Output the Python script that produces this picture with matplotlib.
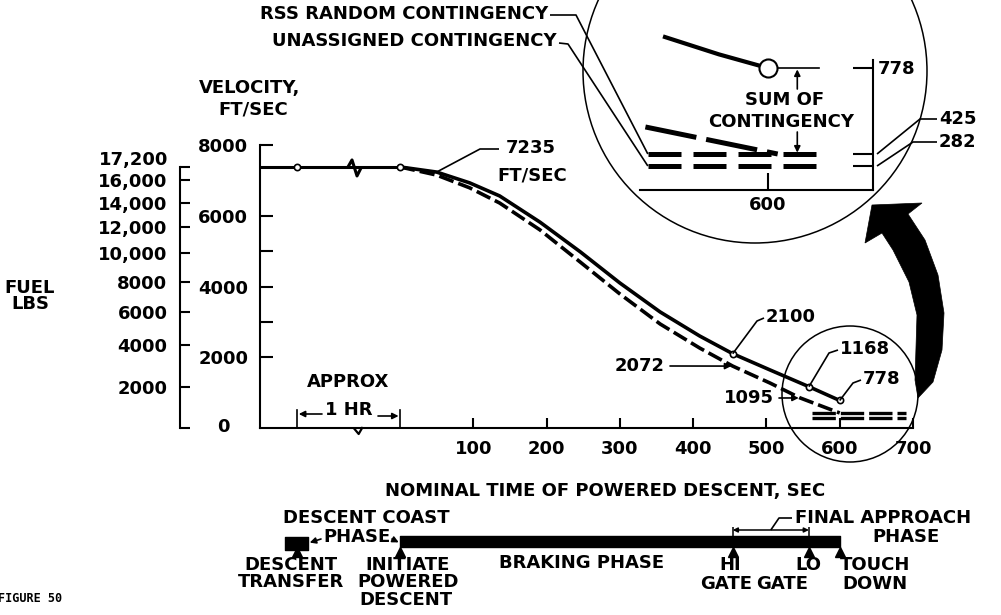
import matplotlib.pyplot as plt
import matplotlib.transforms as mtransforms
import numpy as np
from matplotlib.patches import Circle, Polygon

plt.rcParams["font.family"] = ["DejaVu Sans"]
plt.rcParams["font.weight"] = "bold"
plt.rcParams["font.size"] = 13

# seconds from powered descent initiation; the coast phase sits left of zero
coast_t = [-191, 0]
coast_v = [7380, 7380]
velocity_t = [0, 50, 95, 136, 191, 246, 300, 355, 409, 454, 505, 558, 600]
velocity_v = [7380, 7235, 6930, 6560, 5820, 4980, 4100, 3280, 2600, 2100, 1640, 1168, 778]
fuel_t = [0, 50, 95, 136, 191, 246, 300, 355, 409, 454, 505, 546, 600]
fuel_v = [7380, 7150, 6790, 6360, 5600, 4690, 3790, 2940, 2260, 1750, 1270, 850, 425]
reserve_t = [562, 690]
rss_contingency = 425
unassigned_contingency = 282

velocity_ticks = [2000, 4000, 6000, 8000]
velocity_minor = [3000, 5000]
fuel_ticks = [0, 2000, 4000, 6000, 8000, 10000, 12000, 14000, 16000, 17200]
fuel_tick_at = [0, 1160, 2345, 3280, 4125, 4945, 5680, 6360, 7010, 7380]
time_ticks = [100, 200, 300, 400, 500, 600, 700]

# descent transfer, ignition, hi gate, lo gate, touchdown
event_t = [-140, 0, 454, 558, 600]
transfer_block = (-157, 32)
labelled_t = [454, 558, 600]
labelled_v = [2100, 1168, 778]

# close-up of the touchdown region
zoom_velocity_t = [558, 580, 600]
zoom_velocity_v = [1168, 950, 778]
zoom_fuel_t = [550, 604]
zoom_fuel_v = [536, 425]
zoom_band_t = [551, 623]
zoom_levels = [282, 425, 778]
zoom_scale_v = [0, 282, 425, 778, 1168]
zoom_scale_h = [0, 24, 36, 122, 153]

W, H = 1001, 615
fig = plt.figure(figsize=(W / 100, H / 100), dpi=100)


def box(left, top, right, bottom):
    return [left / W, 1 - bottom / H, (right - left) / W, (bottom - top) / H]


# main velocity / time axes
ax = fig.add_axes(box(260, 145, 913, 428))
ax.set_xlim(-191, 700)
ax.set_ylim(0, 8000)
for side in ["top", "right"]:
    ax.spines[side].set_visible(False)
for side in ["left", "bottom"]:
    ax.spines[side].set_linewidth(1.5)
ax.set_xticks(time_ticks)
ax.set_yticks(velocity_ticks)
ax.set_yticks(velocity_minor, minor=True)
ax.tick_params(axis="y", which="both", direction="in", length=9.5, width=1.5, pad=8.5)
ax.tick_params(axis="x", which="major", direction="in", length=7.5, width=1.5, pad=9)
ax.tick_params(axis="x", which="minor", bottom=False)
ax.annotate("0", xy=(0, 0), xycoords="axes fraction", xytext=(-26.5, 1),
            textcoords="offset points", ha="center", va="center")

ax.plot(coast_t, coast_v, color="k", lw=2.2)
ax.plot(velocity_t, velocity_v, color="k", lw=2.6)
ax.plot(fuel_t, fuel_v, color="k", lw=2.6, dashes=(4.2, 1.4))
for level in [rss_contingency, unassigned_contingency]:
    ax.plot(reserve_t, [level, level], color="k", lw=2.4, dashes=(7, 1.5))
ax.plot(event_t[:2], coast_v, "o", ms=4.5, mfc="white", mec="k", mew=1.2, zorder=5)
ax.plot(labelled_t, labelled_v, "o", ms=4.5, mfc="white", mec="k", mew=1.2, zorder=5)

# fuel scale on its own spine, tied to the velocity scale
axf = fig.add_axes(box(260, 145, 913, 428))
axf.set_ylim(0, 8000)
axf.patch.set_visible(False)
for side in ["top", "right", "bottom"]:
    axf.spines[side].set_visible(False)
axf.spines["left"].set_position(("axes", -80 / 653))
axf.spines["left"].set_bounds(0, fuel_tick_at[-1])
axf.spines["left"].set_linewidth(1.5)
axf.set_xticks([])
fuel_labels = [f"{f:,}" if f >= 10000 else str(f) for f in fuel_ticks]
# the zero and top labels are placed by hand further down
axf.set_yticks(fuel_tick_at, labels=[""] + fuel_labels[1:-1] + [""])
axf.tick_params(axis="y", direction="in", length=7, width=1.5, pad=9)

# close-up axes with a stretched reserve scale
axi = fig.add_axes(box(640, 60, 873, 190))


def zoom_fwd(v):
    return np.interp(v, zoom_scale_v, zoom_scale_h)


def zoom_inv(h):
    return np.interp(h, zoom_scale_h, zoom_scale_v)


axi.set_yscale("function", functions=(zoom_fwd, zoom_inv))
axi.set_xlim(547.8, 642.9)
axi.set_ylim(0, 879)
axi.patch.set_visible(False)
for side in ["top", "left"]:
    axi.spines[side].set_visible(False)
for side in ["bottom", "right"]:
    axi.spines[side].set_linewidth(1.5)
axi.set_xticks([600])
axi.yaxis.tick_right()
axi.set_yticks(zoom_levels, labels=["", "", ""])
axi.yaxis.set_minor_locator(plt.NullLocator())
axi.tick_params(axis="x", direction="in", length=12, width=1.5, pad=4)
axi.tick_params(axis="y", direction="in", length=14.5, width=1.5)
axi.plot(zoom_velocity_t, zoom_velocity_v, color="k", lw=3, clip_on=False)
axi.plot([600], [778], "o", ms=13, mfc="white", mec="k", mew=1.5,
         clip_on=False, zorder=5)
axi.plot([600, 621], [778, 778], color="k", lw=1.2, clip_on=False)
for level in [rss_contingency, unassigned_contingency]:
    axi.plot(zoom_band_t, [level, level], color="k", lw=3.6,
             dashes=(6.6, 2.4), clip_on=False)
axi.plot(zoom_fuel_t, zoom_fuel_v, color="k", lw=3.6, dashes=(10.4, 2), clip_on=False)

# mission timeline bar under the plot
tl = fig.add_axes(box(260, 520, 913, 560))
tl.set_xlim(-191, 700)
tl.set_ylim(0, 40)
tl.set_axis_off()
tl.broken_barh([(event_t[1], event_t[4] - event_t[1])], (12.5, 11), color="k")
tl.broken_barh([transfer_block], (10, 13), color="k")
tl.plot(event_t, [8] * len(event_t), "^", ms=6.5, color="k")
tl.annotate("", xy=(event_t[2], 30), xytext=(event_t[3], 30),
            arrowprops=dict(arrowstyle="<|-|>", lw=1.1, color="k",
                            shrinkA=0, shrinkB=0, mutation_scale=7))
tl.vlines(event_t[2:4], 24, 33, color="k", lw=1.1)

# pixel overlay for callouts
over = fig.add_axes([0, 0, 1, 1], zorder=10)
over.set_xlim(0, W)
over.set_ylim(H, 0)
over.set_axis_off()
over.patch.set_visible(False)
blend = mtransforms.blended_transform_factory(ax.transData, over.transData)


def at(axis, x, y):
    return tuple(over.transData.inverted().transform(axis.transData.transform((x, y))))


def ink(points, lw=1.2):
    xs, ys = zip(*points)
    over.plot(xs, ys, color="k", lw=lw, solid_capstyle="butt")


def pointer(tail, head, xycoords="data"):
    over.annotate("", xy=head, xycoords=xycoords, xytext=tail, textcoords="data",
                  arrowprops=dict(arrowstyle="-|>", lw=1.2, color="k",
                                  mutation_scale=9, shrinkA=0, shrinkB=1))


def say(x, y, s, ha="center", **kw):
    over.text(x, y, s, ha=ha, va="center", **kw)


# axis titles
say(250, 88, "VELOCITY,")
say(253, 110, "FT/SEC")
say(30, 288, "FUEL")
say(30, 304, "LBS")
fx, fy = at(axf, 0, fuel_tick_at[-1])
say(fx - 92, fy - 7, fuel_labels[-1], ha="right")
say(605, 491, "NOMINAL TIME OF POWERED DESCENT, SEC")
over.text(-2, 598, "FIGURE 50", ha="left", va="center", fontsize=8.5,
          family="DejaVu Sans Mono")

# breaks in the coast line and time axis
bx, by = at(ax, -60, coast_v[0])
ink([(bx - 8, by), (bx - 4, by - 7), (bx + 1, by + 9), (bx + 5, by + 1)], lw=2.2)
ax0, ay0 = at(ax, -55, 0)
ink([(ax0 - 6, ay0), (ax0 - 1, ay0 + 6), (ax0 + 3, ay0 - 1)], lw=1.6)

# one hour of coast
say(348, 382, "APPROX")
say(349, 410, "1 HR")
for t in event_t[:2]:
    over.plot([t, t], [410, 428], color="k", lw=1.2, transform=blend)
pointer((322, 414), (event_t[0], 414), xycoords=blend)
pointer((378, 416), (event_t[1], 416), xycoords=blend)

# point callouts
ink([at(ax, velocity_t[1], velocity_v[1]), (480, 149), (499, 149)])
say(531, 148, f"{velocity_v[1]}")
say(532, 176, "FT/SEC")
callouts = [((757, 321), (764, 318)), ((829, 353), (838, 350)), ((853, 383), (861, 380))]
for t, v, (bend, end) in zip(labelled_t, labelled_v, callouts):
    ink([at(ax, t, v), bend, end])
    say(end[0] + 2, end[1] - 1, str(v), ha="left")
say(640, 366, "2072")
pointer((670, 366), at(ax, fuel_t[9], fuel_v[9]))
say(749, 398, "1095")
pointer((779, 398), at(ax, fuel_t[11], fuel_v[11]))

# magnifier circles and arrow
over.add_patch(Circle((850, 394), 68, fill=False, lw=1.1, ec="k"))
over.add_patch(Circle((755, 71), 172, fill=False, lw=1.1, ec="k"))
over.add_patch(Polygon([(918, 398), (915, 380), (917, 315), (909, 282), (893, 250),
                        (882, 233), (865, 243), (872, 205), (922, 203), (908, 214),
                        (925, 240), (938, 275), (944, 313), (942, 350), (933, 382)],
                       closed=True, fc="k", ec="k", lw=0.5))

# close-up labels
say(548, 14, "RSS RANDOM CONTINGENCY", ha="right")
say(557, 41, "UNASSIGNED CONTINGENCY", ha="right")
ink([(550, 15), (576, 15), at(axi, zoom_band_t[0], rss_contingency)])
ink([(559, 43), (568, 44), at(axi, zoom_band_t[0], unassigned_contingency)])
say(785, 100, "SUM OF")
say(781, 122, "CONTINGENCY")
for y_text, level in [(89, 778), (132, rss_contingency)]:
    head = at(axi, 612, level)
    pointer((head[0], y_text), head)
x778, y778 = at(axi, 642.9, 778)
say(x778 + 5, y778 + 1, "778", ha="left")
for level, bend in [(rss_contingency, (920, 119)), (unassigned_contingency, (913, 142))]:
    sx, sy = at(axi, 642.9, level)
    ink([(sx + 4, sy), bend, (937, bend[1])])
    say(939, bend[1], str(level), ha="left")

# timeline labels
say(366, 518, "DESCENT COAST")
say(357, 537, "PHASE")
pointer((321, 539), at(tl, transfer_block[0] + transfer_block[1], 17))
pointer((392, 539), at(tl, event_t[1], 17))
say(291, 565, "DESCENT")
say(291, 582, "TRANSFER")
say(408, 565, "INITIATE")
say(408, 582, "POWERED")
say(406, 600, "DESCENT")
say(582, 563, "BRAKING PHASE")
say(730, 565, "HI")
say(726, 584, "GATE")
say(808, 565, "LO")
say(782, 584, "GATE")
say(875, 565, "TOUCH")
say(875, 584, "DOWN")
say(795, 518, "FINAL APPROACH", ha="left")
say(906, 537, "PHASE")
mid = at(tl, (event_t[2] + event_t[3]) / 2, 30)
ink([mid, (779, 518), (792, 518)])

fig.savefig("out.png", dpi=100)
